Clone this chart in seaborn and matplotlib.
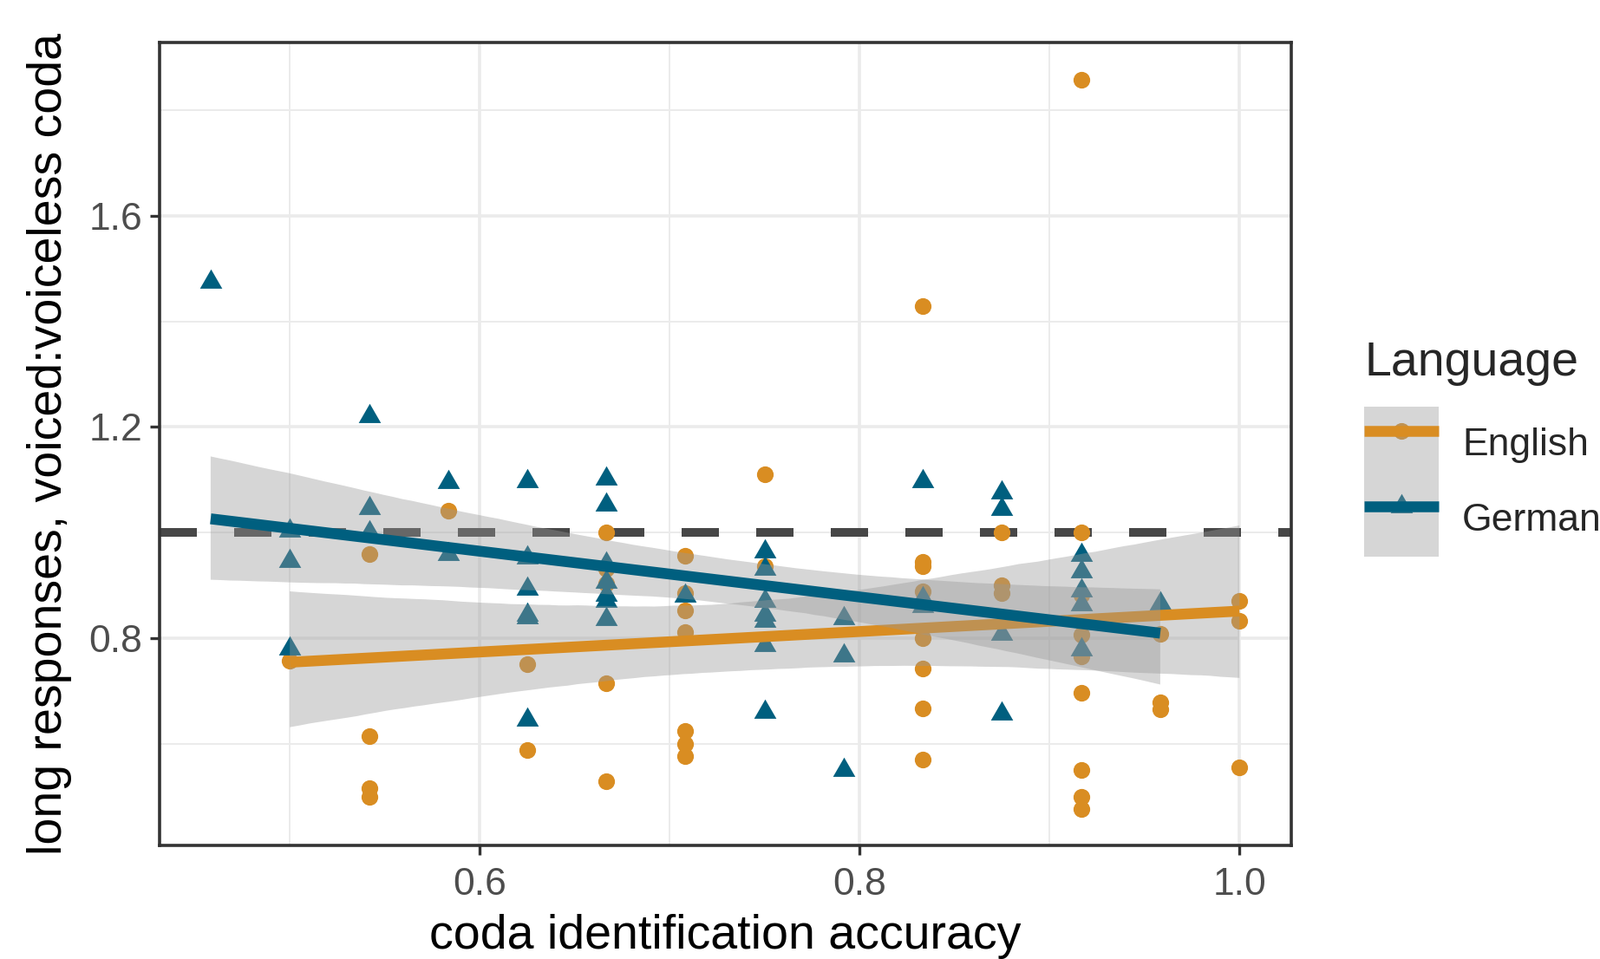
import pandas as pd
import matplotlib.pyplot as plt
from matplotlib.lines import Line2D
from matplotlib.patches import Rectangle
from matplotlib.legend_handler import HandlerTuple
from matplotlib.ticker import FormatStrFormatter
import seaborn as sns

# values (accuracy is k/24)
english_acc = [0.5,
               0.5417, 0.5417, 0.5417, 0.5417,
               0.5833,
               0.625, 0.625,
               0.6667, 0.6667, 0.6667, 0.6667, 0.6667,
               0.7083, 0.7083, 0.7083, 0.7083, 0.7083, 0.7083, 0.7083,
               0.75, 0.75,
               0.8333, 0.8333, 0.8333, 0.8333, 0.8333, 0.8333, 0.8333, 0.8333,
               0.875, 0.875, 0.875,
               0.9167, 0.9167, 0.9167, 0.9167, 0.9167, 0.9167, 0.9167, 0.9167, 0.9167,
               0.9583, 0.9583, 0.9583,
               1.0, 1.0, 1.0]
english_ratio = [0.758,
                 0.96, 0.615, 0.516, 0.499,
                 1.041,
                 0.75, 0.588,
                 1.0, 0.931, 0.904, 0.715, 0.529,
                 0.956, 0.886, 0.853, 0.811, 0.625, 0.6, 0.577,
                 1.111, 0.937,
                 1.429, 0.944, 0.937, 0.889, 0.8, 0.742, 0.667, 0.571,
                 1.0, 0.9, 0.886,
                 1.858, 1.0, 0.882, 0.806, 0.765, 0.696, 0.55, 0.5, 0.476,
                 0.808, 0.678, 0.666,
                 0.871, 0.833, 0.556]

german_acc = [0.4583,
              0.5, 0.5, 0.5,
              0.5417, 0.5417, 0.5417,
              0.5833, 0.5833,
              0.625, 0.625, 0.625, 0.625, 0.625, 0.625,
              0.6667, 0.6667, 0.6667, 0.6667, 0.6667, 0.6667, 0.6667,
              0.7083,
              0.75, 0.75, 0.75, 0.75, 0.75, 0.75, 0.75,
              0.7917, 0.7917, 0.7917,
              0.8333, 0.8333, 0.8333,
              0.875, 0.875, 0.875, 0.875,
              0.9167, 0.9167, 0.9167, 0.9167, 0.9167,
              0.9583]
german_ratio = [1.475,
                1.003, 0.946, 0.781,
                1.22, 1.047, 1.0,
                1.095, 0.96,
                1.097, 0.953, 0.893, 0.844, 0.839, 0.646,
                1.102, 1.053, 0.942, 0.907, 0.882, 0.871, 0.836,
                0.88,
                0.964, 0.931, 0.871, 0.844, 0.833, 0.787, 0.66,
                0.838, 0.767, 0.55,
                1.097, 0.875, 0.86,
                1.076, 1.045, 0.809, 0.657,
                0.958, 0.926, 0.89, 0.864, 0.779,
                0.866]

ORANGE = '#D98D22'
BLUE = '#005F7F'
# equilateral triangle like ggplot shape 17
TRI = [(-1, -0.5774), (1, -0.5774), (0, 1.1547)]

eng = pd.DataFrame({'acc': english_acc, 'ratio': english_ratio})
ger = pd.DataFrame({'acc': german_acc, 'ratio': german_ratio})

sns.set_theme(style='white')
plt.rcParams['font.family'] = ['Liberation Sans', 'DejaVu Sans']

fig, ax = plt.subplots(figsize=(9.225, 5.53), dpi=200)
fig.subplots_adjust(left=0.0995, right=0.8068, bottom=0.118, top=0.9553)

ax.axhline(1.0, color='#474747', lw=3.6, dashes=(4.3, 4.3), zorder=1.5)

sns.scatterplot(data=eng, x='acc', y='ratio', color=ORANGE, marker='o', s=48,
                linewidth=0, ax=ax, zorder=2, legend=False)
sns.scatterplot(data=ger, x='acc', y='ratio', color=BLUE, marker=TRI, s=114,
                linewidth=0, ax=ax, zorder=2, legend=False)

# smooths drawn group by group: band, then line (German band covers English line)
z = 3
for df, col in [(eng, ORANGE), (ger, BLUE)]:
    sns.regplot(data=df, x='acc', y='ratio', scatter=False, ci=95, n_boot=5000, seed=7,
                color=col, line_kws=dict(lw=4.5, zorder=z + 0.1, solid_capstyle='butt'), ax=ax)
    band = ax.collections[-1]
    band.set_facecolor('#999999')
    band.set_edgecolor('none')
    band.set_alpha(0.4)
    band.set_zorder(z)
    z += 0.2

# axes, grid, ticks
allx = english_acc + german_acc
ally = english_ratio + german_ratio
xr = max(allx) - min(allx)
yr = max(ally) - min(ally)
ax.set_xlim(min(allx) - 0.05 * xr, max(allx) + 0.05 * xr)
ax.set_ylim(min(ally) - 0.05 * yr, max(ally) + 0.05 * yr)

ax.set_xticks([0.6, 0.8, 1.0])
ax.set_xticks([0.5, 0.7, 0.9], minor=True)
ax.set_yticks([0.8, 1.2, 1.6])
ax.set_yticks([0.6, 1.0, 1.4, 1.8], minor=True)
ax.xaxis.set_major_formatter(FormatStrFormatter('%.1f'))
ax.yaxis.set_major_formatter(FormatStrFormatter('%.1f'))
ax.set_axisbelow(True)
ax.grid(which='major', color='#EBEBEB', lw=1.3)
ax.grid(which='minor', color='#EBEBEB', lw=0.7)
ax.tick_params(which='major', length=4, width=1.2, color='#333333',
               labelsize=16, labelcolor='#4D4D4D', bottom=True, left=True)
ax.tick_params(axis='x', which='major', pad=5)
ax.tick_params(axis='y', which='major', pad=3)
ax.tick_params(which='minor', length=0)
for sp in ax.spines.values():
    sp.set_color('#333333')
    sp.set_linewidth(1.3)

ax.set_xlabel('coda identification accuracy', fontsize=20, color='black', labelpad=4.5)
ax.set_ylabel('long responses, voiced:voiceless coda', fontsize=20, color='black', labelpad=7)

# legend with grey key background like ggplot
key_bg = Rectangle((0, 0), 1, 1, facecolor='#D6D6D6', edgecolor='none')
h_eng = (key_bg, Line2D([], [], ls='none', marker='o', ms=6.9, mew=0, color='#BF9252'),
         Line2D([], [], color=ORANGE, lw=4.5, solid_capstyle='butt'))
h_ger = (key_bg, Line2D([], [], ls='none', marker=TRI, ms=10.7, mew=0, color='#3D7689'),
         Line2D([], [], color=BLUE, lw=4.5, solid_capstyle='butt'))
leg = fig.legend([h_eng, h_ger], ['English', 'German'], title='Language',
                 loc='upper left', bbox_to_anchor=(0.8526, 0.645), frameon=False,
                 fontsize=16, title_fontsize=20, alignment='left',
                 handlelength=1.94, handleheight=2.63, labelspacing=0,
                 handletextpad=0.6, borderpad=0, borderaxespad=0,
                 handler_map={tuple: HandlerTuple(ndivide=1, pad=0)})
leg._legend_box.sep = 8.6

fig.savefig('out.png', dpi=200)
